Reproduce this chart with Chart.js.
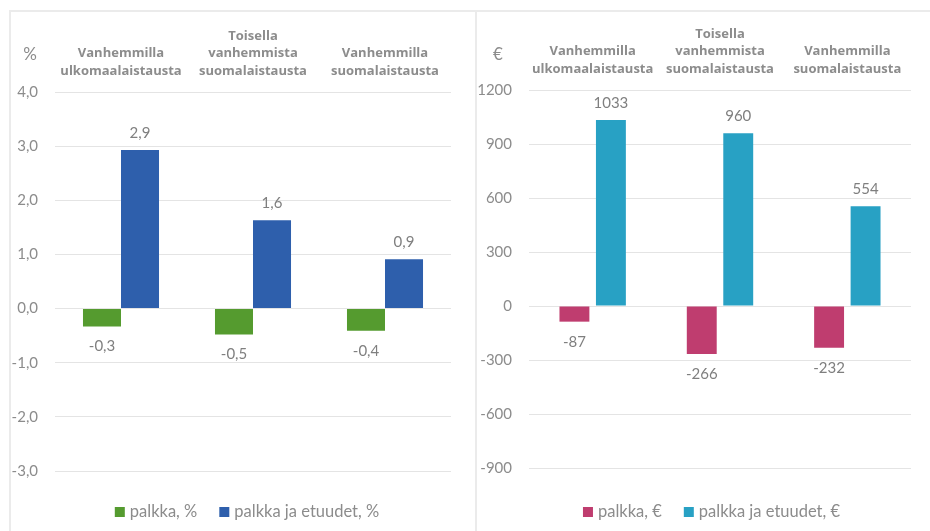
<!DOCTYPE html>
<html>
<head>
<meta charset="utf-8">
<script src="https://cdn.jsdelivr.net/npm/chart.js@4.4.1/dist/chart.umd.min.js"></script>
<style>
  html, body { margin: 0; padding: 0; background: #ffffff; }
  body { width: 930px; height: 531px; position: relative; overflow: hidden; }
  .frame-top { position: absolute; left: 9px; top: 10px; width: 921px; height: 2px; background: #ebebeb; }
  .frame-left { position: absolute; left: 9px; top: 10px; width: 2px; height: 521px; background: #ebebeb; }
  .frame-mid { position: absolute; left: 475px; top: 10px; width: 2px; height: 521px; background: #ebebeb; }
  .box { position: absolute; }
  #boxL { left: 10px; top: 12px; width: 466px; height: 519px; }
  #boxR { left: 477px; top: 12px; width: 453px; height: 519px; }
</style>
</head>
<body>
<div class="frame-top"></div>
<div class="frame-left"></div>
<div class="frame-mid"></div>
<div class="box" id="boxL"><canvas id="cL"></canvas></div>
<div class="box" id="boxR"><canvas id="cR"></canvas></div>
<script>
// ---- data ----
const categories = [
  ['Vanhemmilla', 'ulkomaalaistausta'],
  ['Toisella', 'vanhemmista', 'suomalaistausta'],
  ['Vanhemmilla', 'suomalaistausta']
];
const palkkaPct = [-0.33, -0.48, -0.41];
const palkkaEtuudetPct = [2.93, 1.63, 0.91];
const palkkaEur = [-87, -266, -232];
const palkkaEtuudetEur = [1033, 960, 554];
const seriesNamesPct = ['palkka, %', 'palkka ja etuudet, %'];
const seriesNamesEur = ['palkka, €', 'palkka ja etuudet, €'];
const pctTicks = { min: -3, max: 4, step: 1 };
const eurTicks = { min: -900, max: 1200, step: 300 };

const FONT = 'Lato, "Liberation Sans", sans-serif';
const CAT_FONT = '"Open Sans", Lato, sans-serif';
const GRAY = '#8c8c8c';
const LABEL_GRAY = '#7f7f7f';
const GRID = '#e4e4e4';

function fmtPct(v) { return v.toFixed(1).replace('.', ','); }
function fmtEur(v) { return String(Math.round(v)); }

function valueLabels(fmt) {
  return {
    id: 'valueLabels',
    afterDatasetsDraw(chart) {
      const ctx = chart.ctx;
      ctx.save();
      ctx.font = '15px ' + FONT;
      ctx.fillStyle = LABEL_GRAY;
      ctx.textAlign = 'center';
      ctx.textBaseline = 'middle';
      chart.data.datasets.forEach((ds, i) => {
        const meta = chart.getDatasetMeta(i);
        meta.data.forEach((el, j) => {
          const v = ds.data[j];
          const y = v >= 0 ? el.y - 17 : el.y + 20;
          ctx.fillText(fmt(v), el.x, y);
        });
      });
      ctx.restore();
    }
  };
}

function unitLabel(text, x) {
  return {
    id: 'unitLabel',
    afterDraw(chart) {
      const ctx = chart.ctx;
      ctx.save();
      ctx.font = '17px ' + FONT;
      ctx.fillStyle = GRAY;
      ctx.textAlign = 'center';
      ctx.textBaseline = 'middle';
      ctx.fillText(text, x, 43);
      ctx.restore();
    }
  };
}

function customLegend(centerShift) {
  return {
    id: 'customLegend',
    afterDraw(chart) {
      const ctx = chart.ctx;
      ctx.save();
      ctx.font = '16.5px ' + FONT;
      ctx.textBaseline = 'middle';
      ctx.textAlign = 'left';
      const box = 10, gapText = 5, gapItem = 22;
      const items = chart.data.datasets.map(ds => ({
        label: ds.label, color: ds.backgroundColor, w: ctx.measureText(ds.label).width
      }));
      let total = 0;
      items.forEach((it, i) => { total += box + gapText + it.w + (i ? gapItem : 0); });
      let x = chart.width / 2 + centerShift - total / 2;
      const y = 500;
      items.forEach((it) => {
        ctx.fillStyle = it.color;
        ctx.fillRect(x, y - box / 2, box, box);
        x += box + gapText;
        ctx.fillStyle = GRAY;
        ctx.fillText(it.label, x, y);
        x += it.w + gapItem;
      });
      ctx.restore();
    }
  };
}

function makeChart(id, names, d1, d2, colors, ticks, fmt, opts) {
  return new Chart(document.getElementById(id), {
    type: 'bar',
    data: {
      labels: categories,
      datasets: [
        { label: names[0], data: d1, backgroundColor: colors[0], borderWidth: 0,
          categoryPercentage: opts.catPct, barPercentage: opts.barPct },
        { label: names[1], data: d2, backgroundColor: colors[1], borderWidth: 0,
          categoryPercentage: opts.catPct, barPercentage: opts.barPct }
      ]
    },
    options: {
      responsive: true,
      maintainAspectRatio: false,
      animation: false,
      layout: { padding: { left: 0, right: opts.padRight, top: 0, bottom: opts.padBottom } },
      plugins: {
        legend: { display: false },
        tooltip: { enabled: false }
      },
      scales: {
        x: {
          position: 'top',
          grid: { display: false },
          border: { display: false },
          ticks: {
            color: GRAY,
            font: { family: CAT_FONT, size: 13, weight: 'bold', lineHeight: 1.35 },
            padding: 4,
            maxRotation: 0, autoSkip: false
          },
          afterFit(scale) { scale.height = opts.xHeight; }
        },
        y: {
          min: ticks.min, max: ticks.max,
          grid: { color: GRID, lineWidth: 1, drawTicks: false },
          border: { display: false },
          ticks: {
            stepSize: ticks.step,
            color: GRAY,
            font: { family: FONT, size: 15 },
            padding: opts.tickPad,
            callback: (v) => fmt(v)
          },
          afterFit(scale) { scale.width = opts.yWidth; }
        }
      }
    },
    plugins: [valueLabels(fmt), unitLabel(opts.unit, opts.unitX), customLegend(opts.legendShift)]
  });
}

makeChart('cL', seriesNamesPct, palkkaPct, palkkaEtuudetPct, ['#559b2f', '#2e5fac'],
  pctTicks, fmtPct,
  { catPct: 0.576, barPct: 1.0, padRight: 25, padBottom: 60, xHeight: 80, yWidth: 45,
    tickPad: 17, unit: '%', unitX: 20, legendShift: 4 });

makeChart('cR', seriesNamesEur, palkkaEur, palkkaEtuudetEur, ['#bf3d6f', '#28a1c4'],
  eurTicks, fmtEur,
  { catPct: 0.573, barPct: 0.82, padRight: 19, padBottom: 63, xHeight: 78, yWidth: 52,
    tickPad: 17, unit: '€', unitX: 21, legendShift: 8 });
</script>
</body>
</html>
